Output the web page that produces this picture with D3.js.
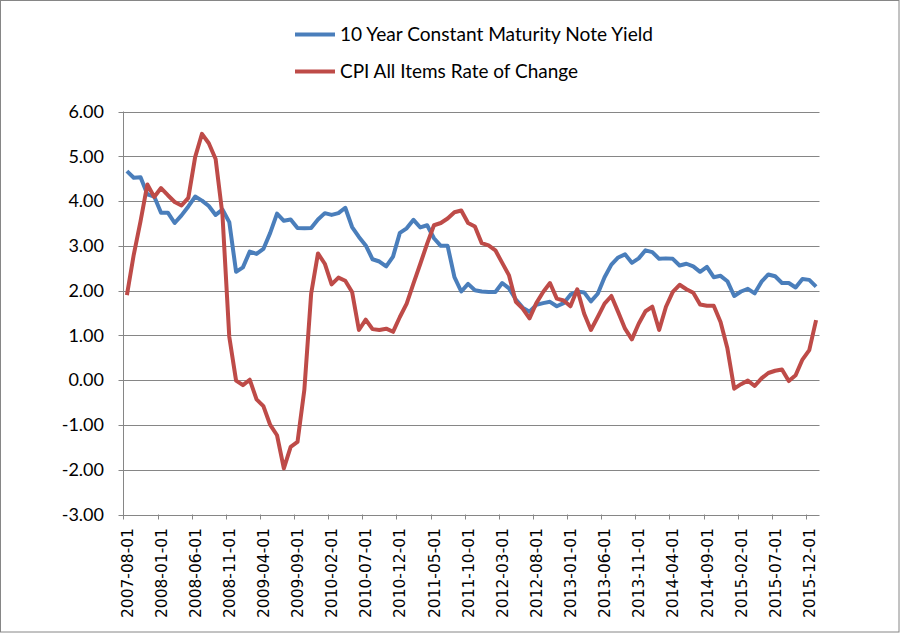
<!DOCTYPE html>
<html>
<head>
<meta charset="utf-8">
<script src="https://cdn.jsdelivr.net/npm/d3@7"></script>
<style>
  html, body { margin: 0; padding: 0; background: #fff; }
  svg { display: block; }
</style>
</head>
<body>
<svg id="chart" width="900" height="633"></svg>
<script>
// ---- Data (monthly, 2007-08-01 .. 2016-01-01) ----
const startMonth = "2007-08-01";
const endMonth = "2016-02-01"; // exclusive
const seriesNames = ["10 Year Constant Maturity Note Yield", "CPI All Items Rate of Change"];
const seriesColors = ["#4a7ebb", "#be4b48"];

const yield10 = [
  4.67, 4.52, 4.53, 4.15, 4.10, 3.74, 3.74, 3.51, 3.68, 3.88,
  4.10, 4.01, 3.89, 3.69, 3.81, 3.53, 2.42, 2.52, 2.87, 2.82,
  2.93, 3.29, 3.72, 3.56, 3.59, 3.40, 3.39, 3.40, 3.59, 3.73,
  3.69, 3.73, 3.85, 3.42, 3.20, 3.01, 2.70, 2.65, 2.54, 2.76,
  3.29, 3.39, 3.58, 3.41, 3.46, 3.17, 3.00, 3.00, 2.30, 1.98,
  2.15, 2.01, 1.98, 1.97, 1.97, 2.17, 2.05, 1.80, 1.62, 1.53,
  1.68, 1.72, 1.75, 1.65, 1.72, 1.91, 1.98, 1.96, 1.76, 1.93,
  2.30, 2.58, 2.74, 2.81, 2.62, 2.72, 2.90, 2.86, 2.71, 2.72,
  2.71, 2.56, 2.60, 2.54, 2.42, 2.53, 2.30, 2.33, 2.21, 1.88,
  1.98, 2.04, 1.94, 2.20, 2.36, 2.32, 2.17, 2.17, 2.07, 2.26,
  2.24, 2.09
];

const cpiChange = [
  1.90, 2.80, 3.55, 4.37, 4.09, 4.29, 4.13, 3.98, 3.90, 4.07,
  4.98, 5.50, 5.29, 4.94, 3.70, 0.97, -0.01, -0.11, 0.01, -0.43,
  -0.58, -1.00, -1.23, -1.97, -1.49, -1.38, -0.22, 1.93, 2.83, 2.60,
  2.14, 2.29, 2.22, 1.97, 1.12, 1.35, 1.14, 1.12, 1.15, 1.08,
  1.41, 1.71, 2.16, 2.60, 3.05, 3.46, 3.51, 3.61, 3.75, 3.79,
  3.51, 3.43, 3.06, 3.01, 2.90, 2.62, 2.34, 1.75, 1.60, 1.38,
  1.72, 1.97, 2.17, 1.82, 1.78, 1.65, 2.03, 1.49, 1.12, 1.41,
  1.71, 1.88, 1.52, 1.15, 0.91, 1.26, 1.54, 1.64, 1.12, 1.64,
  1.97, 2.13, 2.03, 1.95, 1.69, 1.66, 1.66, 1.30, 0.71, -0.19,
  -0.09, -0.01, -0.13, 0.04, 0.16, 0.21, 0.24, -0.02, 0.11, 0.46,
  0.67, 1.34
];

const yTicks = [-3, -2, -1, 0, 1, 2, 3, 4, 5, 6];
const labelEvery = 5;

// ---- Build ----
const fmt = d3.timeFormat("%Y-%m-%d");
const categories = d3.timeMonth.range(new Date(startMonth + "T00:00:00"), new Date(endMonth + "T00:00:00")).map(fmt);

const svg = d3.select("#chart");
const W = 900, H = 633;
const plot = { left: 123.5, right: 819.5, top: 111.5, bottom: 514.5 };
const gridColor = "#868686";

svg.append("rect").attr("x", 0.5).attr("y", 0.5).attr("width", W - 1.5).attr("height", H - 1.5)
  .attr("fill", "#fff").attr("stroke", gridColor).attr("stroke-width", 1);

const x = d3.scaleBand().domain(categories).range([plot.left, plot.right]).padding(0);
const y = d3.scaleLinear().domain([-3, 6]).range([plot.bottom, plot.top]);
const cx = d => x(d) + x.bandwidth() / 2;

// gridlines
svg.append("g").selectAll("line").data(yTicks).join("line")
  .attr("x1", plot.left - 5).attr("x2", plot.right)
  .attr("y1", d => Math.round(y(d)) + 0.5).attr("y2", d => Math.round(y(d)) + 0.5)
  .attr("stroke", gridColor).attr("stroke-width", 1);

// y axis line
svg.append("line").attr("x1", plot.left).attr("x2", plot.left)
  .attr("y1", plot.top).attr("y2", plot.bottom + 5)
  .attr("stroke", gridColor).attr("stroke-width", 1);

// y labels
svg.append("g").selectAll("text").data(yTicks).join("text")
  .attr("x", 104).attr("y", d => y(d)).attr("dy", "0.35em")
  .attr("text-anchor", "end")
  .attr("font-family", "Lato, 'Open Sans', sans-serif").attr("font-size", 18)
  .attr("fill", "#000")
  .text(d => d.toFixed(2));

// x tick marks every 5 categories (at category boundaries)
const tickIdx = d3.range(labelEvery, categories.length, labelEvery);
svg.append("g").selectAll("line").data(tickIdx).join("line")
  .attr("x1", i => Math.round(x(categories[i])) + 0.5).attr("x2", i => Math.round(x(categories[i])) + 0.5)
  .attr("y1", plot.bottom).attr("y2", plot.bottom + 5)
  .attr("stroke", gridColor).attr("stroke-width", 1);

// x labels
const labelIdx = d3.range(0, categories.length, labelEvery);
svg.append("g").selectAll("text").data(labelIdx).join("text")
  .attr("transform", i => `translate(${cx(categories[i])},528) rotate(-90)`)
  .attr("text-anchor", "end").attr("dy", "0.36em")
  .attr("font-family", "'DejaVu Sans', sans-serif").attr("font-size", 15.5)
  .attr("fill", "#000")
  .text(i => categories[i]);

// lines
const line = d3.line().x((d, i) => cx(categories[i])).y(d => y(d));
[yield10, cpiChange].forEach((s, k) => {
  svg.append("path").datum(s).attr("d", line)
    .attr("fill", "none").attr("stroke", seriesColors[k])
    .attr("stroke-width", 4).attr("stroke-linejoin", "round").attr("stroke-linecap", "butt");
});

// legend
const legendY = [34.5, 71.5];
const legendW = [313, 238];
seriesNames.forEach((name, k) => {
  svg.append("line").attr("x1", 295).attr("x2", 335)
    .attr("y1", legendY[k]).attr("y2", legendY[k])
    .attr("stroke", seriesColors[k]).attr("stroke-width", 4);
  svg.append("text").attr("x", 340).attr("y", legendY[k]).attr("dy", "0.35em")
    .attr("font-family", "Lato, 'Open Sans', sans-serif").attr("font-size", 19)
    .attr("textLength", legendW[k]).attr("lengthAdjust", "spacingAndGlyphs")
    .attr("fill", "#000")
    .text(name);
});
</script>
</body>
</html>
